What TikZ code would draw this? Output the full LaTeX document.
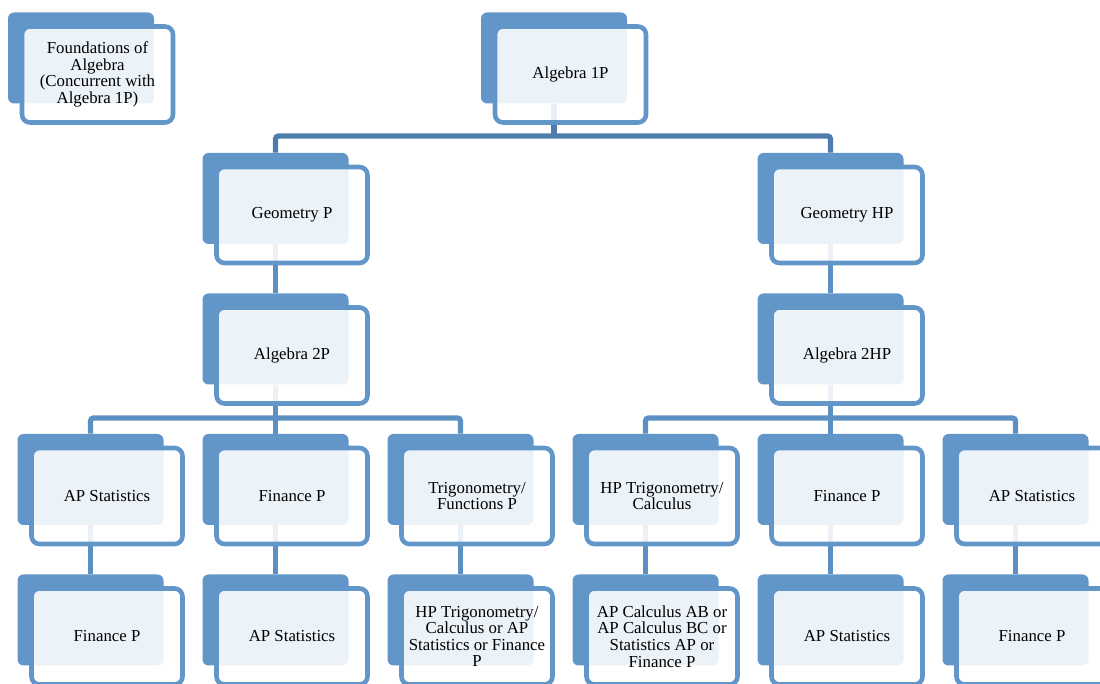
\documentclass[tikz,border=0pt]{standalone}
\usepackage{fontspec}
\setmainfont{Liberation Serif}
\usepackage{tikz}
\definecolor{boxblue}{RGB}{98,150,201}
\definecolor{linkblue}{RGB}{92,143,194}
\definecolor{barblue}{RGB}{78,124,172}
\tikzstyle{back}=[rectangle, fill=boxblue, rounded corners=3pt, minimum width=73pt, minimum height=45.5pt, inner sep=0pt]
\tikzstyle{front}=[rectangle, draw=boxblue, line width=2.3pt, fill=white, fill opacity=0.88, text opacity=1, rounded corners=4pt, minimum width=75.5pt, minimum height=48pt, inner sep=0pt, align=center, font=\fontsize{8.4}{8.3}\selectfont]
\tikzstyle{link}=[draw=linkblue, line width=2.6pt, rounded corners=1.5pt]
\tikzstyle{toplink}=[draw=barblue, line width=2.6pt, rounded corners=1.5pt]

\begin{document}
\begin{tikzpicture}[x=0.5pt, y=-0.5pt]
    \useasboundingbox (0,0) rectangle (1100,684);
    \clip (0,0) rectangle (1100,684);
    % back boxes
    \node[back] (fb)    at (81,58) {};
    \node[back] (0b)    at (554,58) {};
    \node[back] (1b)    at (275.5,198.5) {};
    \node[back] (2b)    at (830.5,198.5) {};
    \node[back] (11b)   at (275.5,339) {};
    \node[back] (21b)   at (830.5,339) {};
    \node[back] (111b)  at (90.5,479.5) {};
    \node[back] (112b)  at (275.5,479.5) {};
    \node[back] (113b)  at (460.5,479.5) {};
    \node[back] (211b)  at (645.5,479.5) {};
    \node[back] (212b)  at (830.5,479.5) {};
    \node[back] (213b)  at (1015.5,479.5) {};
    \node[back] (1111b) at (90.5,620) {};
    \node[back] (1121b) at (275.5,620) {};
    \node[back] (1131b) at (460.5,620) {};
    \node[back] (2111b) at (645.5,620) {};
    \node[back] (2121b) at (830.5,620) {};
    \node[back] (2131b) at (1015.5,620) {};
    % joints
    \coordinate (j0)  at (554,136);
    \coordinate (j11) at (275.5,418);
    \coordinate (j21) at (830.5,418);
    % links
    \draw[toplink] (0b.south) -- (j0);
    \draw[toplink] (1b.north) |- (j0) -| (2b.north);
    \draw[link] (1b.south) -- (11b.north);
    \draw[link] (2b.south) -- (21b.north);
    \draw[link] (11b.south) -- (112b.north);
    \draw[link] (111b.north) |- (j11) -| (113b.north);
    \draw[link] (21b.south) -- (212b.north);
    \draw[link] (211b.north) |- (j21) -| (213b.north);
    \draw[link] (111b.south) -- (1111b.north);
    \draw[link] (112b.south) -- (1121b.north);
    \draw[link] (113b.south) -- (1131b.north);
    \draw[link] (211b.south) -- (2111b.north);
    \draw[link] (212b.south) -- (2121b.north);
    \draw[link] (213b.south) -- (2131b.north);
    % front boxes
    \node[front] (f)    at (97.5,74.5) {Foundations of\\Algebra\\(Concurrent with\\Algebra 1P)};
    \node[front] (0)    at (570.5,74.5) {Algebra 1P};
    \node[front] (1)    at (292,215) {Geometry P};
    \node[front] (2)    at (847,215) {Geometry HP};
    \node[front] (11)   at (292,355.5) {Algebra 2P};
    \node[front] (21)   at (847,355.5) {Algebra 2HP};
    \node[front] (111)  at (107,496) {AP Statistics};
    \node[front] (112)  at (292,496) {Finance P};
    \node[front] (113)  at (477,496) {Trigonometry/\\Functions P};
    \node[front] (211)  at (662,496) {HP Trigonometry/\\Calculus};
    \node[front] (212)  at (847,496) {Finance P};
    \node[front] (213)  at (1032,496) {AP Statistics};
    \node[front] (1111) at (107,636.5) {Finance P};
    \node[front] (1121) at (292,636.5) {AP Statistics};
    \node[front] (1131) at (477,636.5) {HP Trigonometry/\\Calculus or AP\\Statistics or Finance\\P};
    \node[front] (2111) at (662,636.5) {AP Calculus AB or\\AP Calculus BC or\\Statistics AP or\\Finance P};
    \node[front] (2121) at (847,636.5) {AP Statistics};
    \node[front] (2131) at (1032,636.5) {Finance P};
\end{tikzpicture}
\end{document}
